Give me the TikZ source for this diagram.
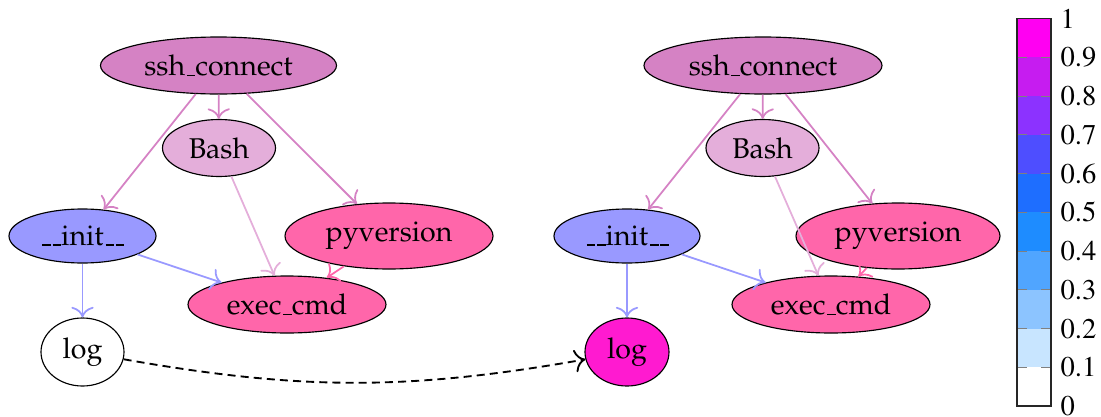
\documentclass[tikz,border=0pt]{standalone}
\usepackage[OT1]{fontenc}
\renewcommand{\rmdefault}{ppl}
\usetikzlibrary{shapes.geometric,arrows.meta}
\newcommand\pxu{0.35pt}
% node fills
\definecolor{cssh}{HTML}{D582C4}
\definecolor{cbash}{HTML}{E4AEDA}
\definecolor{cinit}{HTML}{9999FF}
\definecolor{cpy}{HTML}{FF66AA}
\definecolor{clog}{HTML}{FF1AD0}
% colour scale
\definecolor{cbA}{HTML}{C8E5FF}
\definecolor{cbB}{HTML}{8CC4FF}
\definecolor{cbC}{HTML}{50A5FF}
\definecolor{cbD}{HTML}{1E8CFF}
\definecolor{cbE}{HTML}{1E6EFF}
\definecolor{cbF}{HTML}{4E4EFF}
\definecolor{cbG}{HTML}{8C32FF}
\definecolor{cbH}{HTML}{C61CF0}
\definecolor{cbI}{HTML}{FF00F2}
\begin{document}
\begin{tikzpicture}[x=0.35pt,y=-0.35pt,
  task/.style={ellipse,draw=black,line width=0.4pt,inner sep=0pt,
    font=\fontsize{10}{12}\selectfont},
  dep/.style={-{To[scale=1.25]},line width=0.62pt},
  cblabel/.style={anchor=west,inner sep=0pt,font=\fontfamily{ptm}\fontsize{10}{12}\selectfont},
]
\useasboundingbox (0,0) rectangle (1101,416);

% ---- first run ----
\node[task,fill=cssh,minimum width=236*\pxu,minimum height=57*\pxu] (sshA) at (218.5,65.5) {ssh\_connect};
\node[task,fill=cbash,minimum width=113*\pxu,minimum height=57*\pxu] (bashA) at (219,148) {Bash};
\node[task,fill=cinit,minimum width=147*\pxu,minimum height=54*\pxu] (initA) at (82.5,236) {\_\_init\_\_};
\node[task,fill=cpy,minimum width=208*\pxu,minimum height=66*\pxu] (pyA) at (389,236) {pyversion};
\node[task,fill=cpy,minimum width=198*\pxu,minimum height=57*\pxu] (execA) at (287,304.5) {exec\_cmd};
\node[task,fill=white,minimum width=83*\pxu,minimum height=68*\pxu] (logA) at (82.5,352) {log};

\draw[dep,cssh] (sshA) -- (bashA);
\draw[dep,cssh] (sshA) -- (initA);
\draw[dep,cssh] (sshA) -- (pyA);
\draw[dep,cbash] (bashA) -- (execA);
\draw[dep,cinit] (initA) -- (execA);
\draw[dep,cpy] (pyA) -- (execA);
\draw[dep,cinit] (initA) -- (logA);

% ---- second run ----
\node[task,fill=cssh,minimum width=238*\pxu,minimum height=57*\pxu] (sshB) at (763,65.5) {ssh\_connect};
\node[task,fill=cbash,minimum width=113*\pxu,minimum height=57*\pxu] (bashB) at (762.5,148) {Bash};
\node[task,fill=cinit,minimum width=146*\pxu,minimum height=54*\pxu] (initB) at (627,236) {\_\_init\_\_};
\node[task,fill=cpy,minimum width=204*\pxu,minimum height=66*\pxu] (pyB) at (898,236) {pyversion};
\node[task,fill=cpy,minimum width=198*\pxu,minimum height=57*\pxu] (execB) at (831,304.5) {exec\_cmd};
\node[task,fill=clog,minimum width=84*\pxu,minimum height=68*\pxu] (logB) at (627,352) {log};

\draw[dep,cssh] (sshB) -- (bashB);
\draw[dep,cssh] (sshB) -- (initB);
\draw[dep,cssh] (sshB) -- (pyB);
\draw[dep,cbash] (bashB) -- (execB);
\draw[dep,cinit] (initB) -- (execB);
\draw[dep,cpy] (pyB) -- (execB);
\draw[dep,cinit] (initB) -- (logB);

% log carried over between the runs
\draw[-{To[scale=1.25]},line width=0.65pt,dash pattern=on 2.8pt off 1.8pt] (logA) to[bend right=10] (logB);

% ---- colour scale ----
\foreach \c [count=\i from 0] in {white,cbA,cbB,cbC,cbD,cbE,cbF,cbG,cbH,cbI}
  \fill[\c] (1017,{406-\i*38.73}) rectangle (1051,{406-(\i+1)*38.73});
\foreach \i in {1,...,9}{
  \draw[gray,line width=0.4pt] (1017,{406-\i*38.73}) -- (1027,{406-\i*38.73});
  \draw[gray,line width=0.4pt] (1041,{406-\i*38.73}) -- (1051,{406-\i*38.73});
}
\draw[black!85,line width=0.5pt] (1017,18.7) rectangle (1051,406);
\foreach \v [count=\i from 0] in {0,0.1,0.2,0.3,0.4,0.5,0.6,0.7,0.8,0.9,1}
  \node[cblabel] (cbl\i) at (1060,{406-\i*38.73}) {\v};
\end{tikzpicture}
\end{document}
